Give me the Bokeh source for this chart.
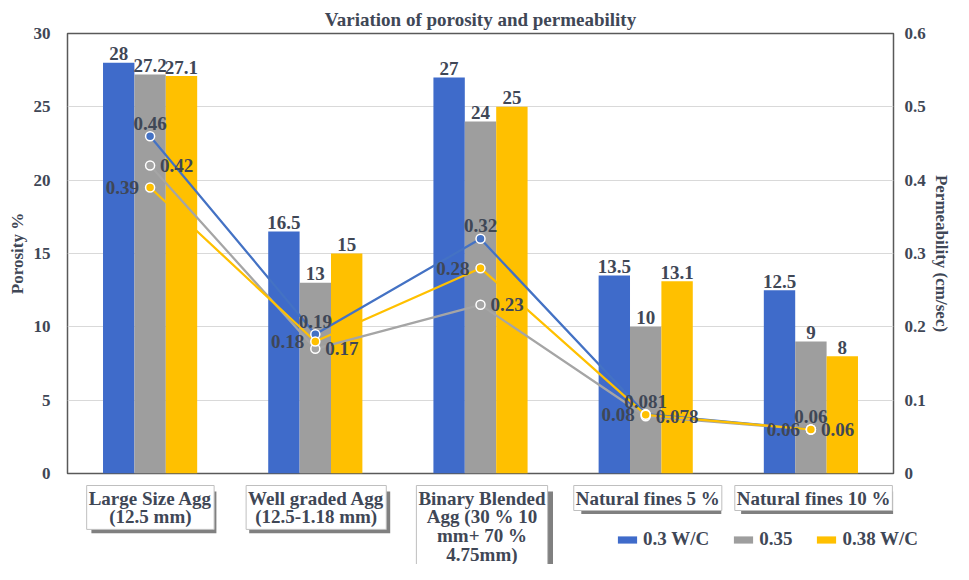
from bokeh.plotting import figure
from bokeh.layouts import column
from bokeh.models import (ColumnDataSource, FactorRange, Range1d, LinearAxis, Legend, LegendItem,
                          Label, BoxAnnotation, FixedTicker)
from bokeh.transform import dodge
from bokeh.embed import file_html
from bokeh.resources import INLINE
from bokeh.core.properties import value

# ---------------- data ----------------
categories = ["Large Size Agg", "Well graded Agg", "Binary Blended Agg",
              "Natural fines 5 %", "Natural fines 10 %"]
category_labels = ["Large Size Agg\n(12.5 mm)", "Well graded Agg\n(12.5-1.18 mm)",
                   "Binary Blended\nAgg (30 % 10\nmm+ 70 %\n4.75mm)",
                   "Natural fines 5 %", "Natural fines 10 %"]
series = ["0.3 W/C", "0.35", "0.38 W/C"]
porosity_030 = [28, 16.5, 27, 13.5, 12.5]
porosity_035 = [27.2, 13, 24, 10, 9]
porosity_038 = [27.1, 15, 25, 13.1, 8]
permeability_030 = [0.46, 0.19, 0.32, 0.081, 0.06]
permeability_035 = [0.42, 0.17, 0.23, 0.078, 0.06]
permeability_038 = [0.39, 0.18, 0.28, 0.08, 0.06]
porosity_ticks = [0, 5, 10, 15, 20, 25, 30]
permeability_ticks = [0, 0.1, 0.2, 0.3, 0.4, 0.5, 0.6]

# ---------------- style / layout ----------------
FONT = "Liberation Serif"
TXT = "#3F4756"
COLORS = ["#3F6BCA", "#9E9E9E", "#FFC000"]
LINE_COLORS = ["#4472C4", "#A5A5A5", "#FFC000"]
W = 953
H_TOTAL = 564
BL, BR, BT, BB = 67, 57, 33, 10
FRAME_BOTTOM = 473
H1 = FRAME_BOTTOM + BB
H2 = H_TOTAL - H1

def fmt(v):
    return f"{v:g}"

src = ColumnDataSource(dict(
    cat=categories,
    p030=porosity_030, p035=porosity_035, p038=porosity_038,
    k030=permeability_030, k035=permeability_035, k038=permeability_038,
    p030_l=[fmt(v) for v in porosity_030], p035_l=[fmt(v) for v in porosity_035],
    p038_l=[fmt(v) for v in porosity_038],
    k030_l=[fmt(v) for v in permeability_030], k035_l=[fmt(v) for v in permeability_035],
    k038_l=[fmt(v) for v in permeability_038],
))

p = figure(x_range=FactorRange(*categories), y_range=Range1d(0, 30),
           width=W, height=H1, output_backend="svg", toolbar_location=None,
           min_border_left=BL, min_border_right=BR, min_border_top=BT, min_border_bottom=BB,
           title="Variation of porosity and permeability")
p.extra_y_ranges = {"perm": Range1d(0, 0.6)}

p.title.align = "center"
p.title.text_font = FONT
p.title.text_font_size = "19px"
p.title.text_font_style = "bold"
p.title.text_color = TXT
p.title.standoff = 8
p.title.offset = 0

p.outline_line_color = "#595959"
p.outline_line_width = 1.5
p.background_fill_color = "white"
p.border_fill_color = "white"

left_ticker = FixedTicker(ticks=porosity_ticks)
yl = p.yaxis[0]
yl.ticker = left_ticker
yl.axis_label = "Porosity %"

yr = LinearAxis(y_range_name="perm", ticker=FixedTicker(ticks=permeability_ticks),
                axis_label="Permeability (cm/sec)")
yr.major_label_overrides = {0: "0"}
p.add_layout(yr, "right")

for ax in (yl, yr):
    ax.axis_line_color = None
    ax.major_tick_line_color = None
    ax.minor_tick_line_color = None
    ax.major_tick_out = 0
    ax.major_tick_in = 0
    ax.minor_tick_out = 0
    ax.major_label_text_font = FONT
    ax.major_label_text_font_style = "bold"
    ax.major_label_text_font_size = "17px"
    ax.major_label_text_color = TXT
    ax.axis_label_text_font = FONT
    ax.axis_label_text_font_style = "bold"
    ax.axis_label_text_font_size = "17px"
    ax.axis_label_text_color = TXT
yl.major_label_standoff = 17
yl.axis_label_standoff = 4
yr.major_label_standoff = 11
yr.axis_label_standoff = 3

p.xaxis.visible = False
p.xgrid.visible = False
p.ygrid.ticker = left_ticker
p.ygrid.grid_line_color = "#D9D9D9"
p.ygrid.grid_line_width = 1

# ---------------- bars ----------------
BW = 0.19
offsets = [-BW, 0.0, BW]
pcols = ["p030", "p035", "p038"]
kcols = ["k030", "k035", "k038"]
for off, col, c in zip(offsets, pcols, COLORS):
    p.vbar(x=dodge("cat", off, range=p.x_range), top=col, width=BW, source=src,
           fill_color=c, line_color=None)

# ---------------- lines ----------------
for col, c in zip(kcols, LINE_COLORS):
    p.line(x="cat", y=col, source=src, y_range_name="perm", line_color=c, line_width=2.25)
for col, c in zip(kcols, LINE_COLORS):
    p.scatter(x="cat", y=col, source=src, y_range_name="perm", size=9,
              fill_color=c, line_color="white", line_width=1.5)

# ---------------- data labels ----------------
lbl_kw = dict(text_font=value(FONT), text_font_style="bold", text_font_size="19px",
              text_color=TXT, source=src)
for off, col in zip(offsets, pcols):
    p.text(x=dodge("cat", off, range=p.x_range), y=col, text=col + "_l",
           text_align="center", text_baseline="alphabetic", y_offset=-9, **lbl_kw)
# blue above, grey right, yellow left
p.text(x="cat", y="k030", text="k030_l", y_range_name="perm", text_align="center",
       text_baseline="alphabetic", y_offset=-13, **lbl_kw)
p.text(x="cat", y="k035", text="k035_l", y_range_name="perm", text_align="left",
       text_baseline="middle", x_offset=10, **lbl_kw)
p.text(x="cat", y="k038", text="k038_l", y_range_name="perm", text_align="right",
       text_baseline="middle", x_offset=-11, **lbl_kw)

# ---------------- lower strip: category boxes + legend ----------------
cat_px = (W - BL - BR) / len(categories)
p2 = figure(width=W, height=H2, output_backend="svg", toolbar_location=None,
            y_range=Range1d(H2, 0),
            x_axis_location=None, y_axis_location=None,
            min_border_left=0, min_border_right=0, min_border_top=0, min_border_bottom=0)
free_frame = "frame_align" in p2.properties()
if free_frame:
    p2.frame_align = False
    p2.x_range = Range1d(-BL / cat_px, len(categories) + BR / cat_px)
    legend_x = 615
else:
    p2.x_range = Range1d(0, len(categories))
    legend_x = 515
p2.outline_line_color = None
p2.grid.visible = False
p2.background_fill_color = "white"
p2.border_fill_color = "white"

box_w = [126, 142, 136, 141, 153]
lines_n = [lbl.count("\n") + 1 for lbl in category_labels]
LINE_PX = 19.4
BOX_TOP = 2
for i, lbl in enumerate(category_labels):
    cx = i + 0.5
    h = lines_n[i] * LINE_PX + 4
    p2.add_layout(BoxAnnotation(left=cx + (-box_w[i] / 2 + 4) / cat_px,
                                right=cx + (box_w[i] / 2 + 3) / cat_px,
                                top=BOX_TOP + 6, bottom=BOX_TOP + h + 5,
                                fill_color="#6A6A6A", fill_alpha=0.85, line_color=None))
for i, lbl in enumerate(category_labels):
    p2.add_layout(Label(x=i + 0.5, y=BOX_TOP, text=lbl,
                        text_align="center", text_baseline="top",
                        text_font=FONT, text_font_style="bold", text_font_size="19px",
                        text_color=TXT, text_line_height=0.9,
                        background_fill_color="white", border_line_color="#BFBFBF",
                        border_line_width=1, padding=2))

# legend swatches: zero-height bars (nothing drawn), used only as legend glyphs
swatch_src = ColumnDataSource(dict(x=[0.0], top=[0.0]))
legend_rs = [p2.vbar(x="x", top="top", bottom="top", width=0.01, source=swatch_src,
                     fill_color=c, line_color=None) for c in COLORS]
legend = Legend(items=[LegendItem(label=s, renderers=[r]) for s, r in zip(series, legend_rs)],
                orientation="horizontal", location=(legend_x, 14),
                glyph_width=24, glyph_height=9, label_standoff=4, spacing=22,
                padding=0, margin=0, border_line_color=None, background_fill_alpha=0,
                label_text_font=FONT, label_text_font_style="bold",
                label_text_font_size="19px", label_text_color=TXT)
p2.add_layout(legend)

layout = column(p, p2, spacing=0)
open("out.html", "w").write(file_html(layout, INLINE))
